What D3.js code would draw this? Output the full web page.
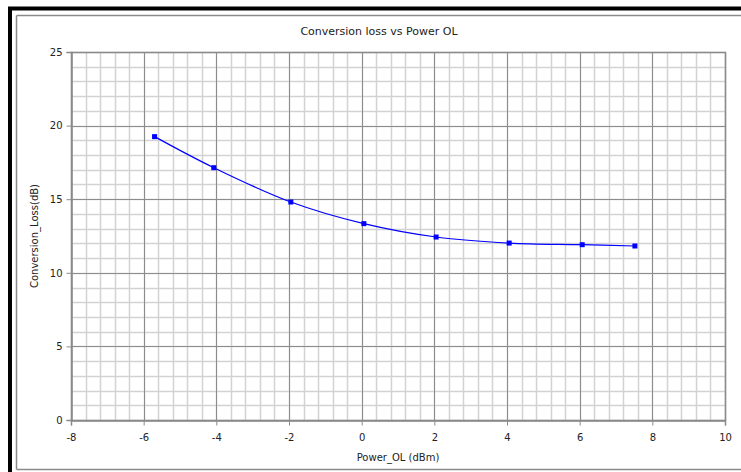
<!DOCTYPE html>
<html><head><meta charset="utf-8">
<script src="https://cdn.jsdelivr.net/npm/d3@7"></script>
<style>body{margin:0;background:#fff}svg{display:block}text{font-family:"DejaVu Sans",Verdana,sans-serif;fill:#222}</style>
</head><body>
<script>
const powerOL = [-5.70, -4.07, -1.95, 0.06, 2.05, 4.06, 6.07, 7.52];
const convLoss = [19.25, 17.14, 14.81, 13.34, 12.43, 12.02, 11.91, 11.82];
const xTicks = [-8, -6, -4, -2, 0, 2, 4, 6, 8, 10];
const yTicks = [0, 5, 10, 15, 20, 25];
const titleText = "Conversion loss vs Power OL";
const xTitle = "Power_OL (dBm)";
const yTitle = "Conversion_Loss(dB)";

const W = 741, H = 472;
const svg = d3.select("body").append("svg").attr("width", W).attr("height", H);

// frame
svg.append("rect").attr("x", 0).attr("y", 0).attr("width", W).attr("height", H).attr("fill", "#fff");
svg.append("line").attr("x1", 8).attr("x2", W).attr("y1", 8.5).attr("y2", 8.5).attr("stroke", "#000").attr("stroke-width", 4);
svg.append("line").attr("x1", 10).attr("x2", 10).attr("y1", 8).attr("y2", H).attr("stroke", "#000").attr("stroke-width", 4);
svg.append("line").attr("x1", 16.5).attr("x2", W).attr("y1", 15.5).attr("y2", 15.5).attr("stroke", "#8a8a8a").attr("stroke-width", 1.5);
svg.append("line").attr("x1", 16.5).attr("x2", 16.5).attr("y1", 15.5).attr("y2", 469.5).attr("stroke", "#8a8a8a").attr("stroke-width", 1.5);
svg.append("line").attr("x1", 16.5).attr("x2", W).attr("y1", 469.5).attr("y2", 469.5).attr("stroke", "#8a8a8a").attr("stroke-width", 1.5);

const L = 71, R = 725, T = 52, B = 420;
const x = d3.scaleLinear().domain([-8, 10]).range([L, R]);
const y = d3.scaleLinear().domain([0, 25]).range([B, T]);

const g = svg.append("g");
// minor grid
const xMinor = d3.range(-8, 10.001, 0.4).map(v => Math.round(v * 10) / 10);
const yMinor = d3.range(0, 25.001, 1);
g.selectAll(".vmin").data(xMinor).join("line")
  .attr("x1", d => Math.round(x(d)) + 0.5).attr("x2", d => Math.round(x(d)) + 0.5)
  .attr("y1", T).attr("y2", B).attr("stroke", "#d2d2d2").attr("stroke-width", 1.5);
g.selectAll(".hmin").data(yMinor).join("line")
  .attr("y1", d => Math.round(y(d)) + 0.5).attr("y2", d => Math.round(y(d)) + 0.5)
  .attr("x1", L).attr("x2", R).attr("stroke", "#d2d2d2").attr("stroke-width", 1.5);
// major grid
g.selectAll(".vmaj").data(xTicks).join("line")
  .attr("x1", d => Math.round(x(d)) + 0.5).attr("x2", d => Math.round(x(d)) + 0.5)
  .attr("y1", T).attr("y2", B).attr("stroke", "#8c8c8c").attr("stroke-width", 1);
g.selectAll(".hmaj").data(yTicks).join("line")
  .attr("y1", d => Math.round(y(d)) + 0.5).attr("y2", d => Math.round(y(d)) + 0.5)
  .attr("x1", L).attr("x2", R).attr("stroke", "#8c8c8c").attr("stroke-width", 1);
// plot border
svg.append("rect").attr("x", L + 0.5).attr("y", T + 0.5).attr("width", R - L).attr("height", B - T)
  .attr("fill", "none").attr("stroke", "#8a8a8a").attr("stroke-width", 1.5);

// axes
const fmt = d => String(d);
const xAxis = svg.append("g").attr("transform", `translate(0,${B + 0.5})`)
  .call(d3.axisBottom(x).tickValues(xTicks).tickSize(5).tickPadding(8).tickFormat(fmt));
const yAxis = svg.append("g").attr("transform", `translate(${L + 0.5},0)`)
  .call(d3.axisLeft(y).tickValues(yTicks).tickSize(5).tickPadding(4).tickFormat(fmt));
[xAxis, yAxis].forEach(a => {
  a.select(".domain").attr("stroke", "#8a8a8a").attr("stroke-width", 1.5);
  a.selectAll(".tick line").attr("stroke", "#8a8a8a");
  a.selectAll(".tick text").attr("font-family", "DejaVu Sans, Verdana, sans-serif").attr("font-size", 10).attr("fill", "#222");
});

// line + markers
const pts = powerOL.map((p, i) => [p, convLoss[i]]);
svg.append("path").datum(pts)
  .attr("d", d3.line().x(d => x(d[0])).y(d => y(d[1])).curve(d3.curveCatmullRom.alpha(0.5)))
  .attr("fill", "none").attr("stroke", "#0000ff").attr("stroke-width", 1.2);
svg.selectAll(".mk").data(pts).join("rect")
  .attr("x", d => x(d[0]) - 2.5).attr("y", d => y(d[1]) - 2.5).attr("width", 5).attr("height", 5)
  .attr("fill", "#0000ff");

// titles
svg.append("text").attr("x", 379).attr("y", 35).attr("text-anchor", "middle").attr("font-size", 11).text(titleText);
svg.append("text").attr("x", 398).attr("y", 461).attr("text-anchor", "middle").attr("font-size", 10).text(xTitle);
svg.append("text").attr("transform", "translate(38,236) rotate(-90)").attr("text-anchor", "middle").attr("font-size", 10).text(yTitle);
</script>
</body></html>
